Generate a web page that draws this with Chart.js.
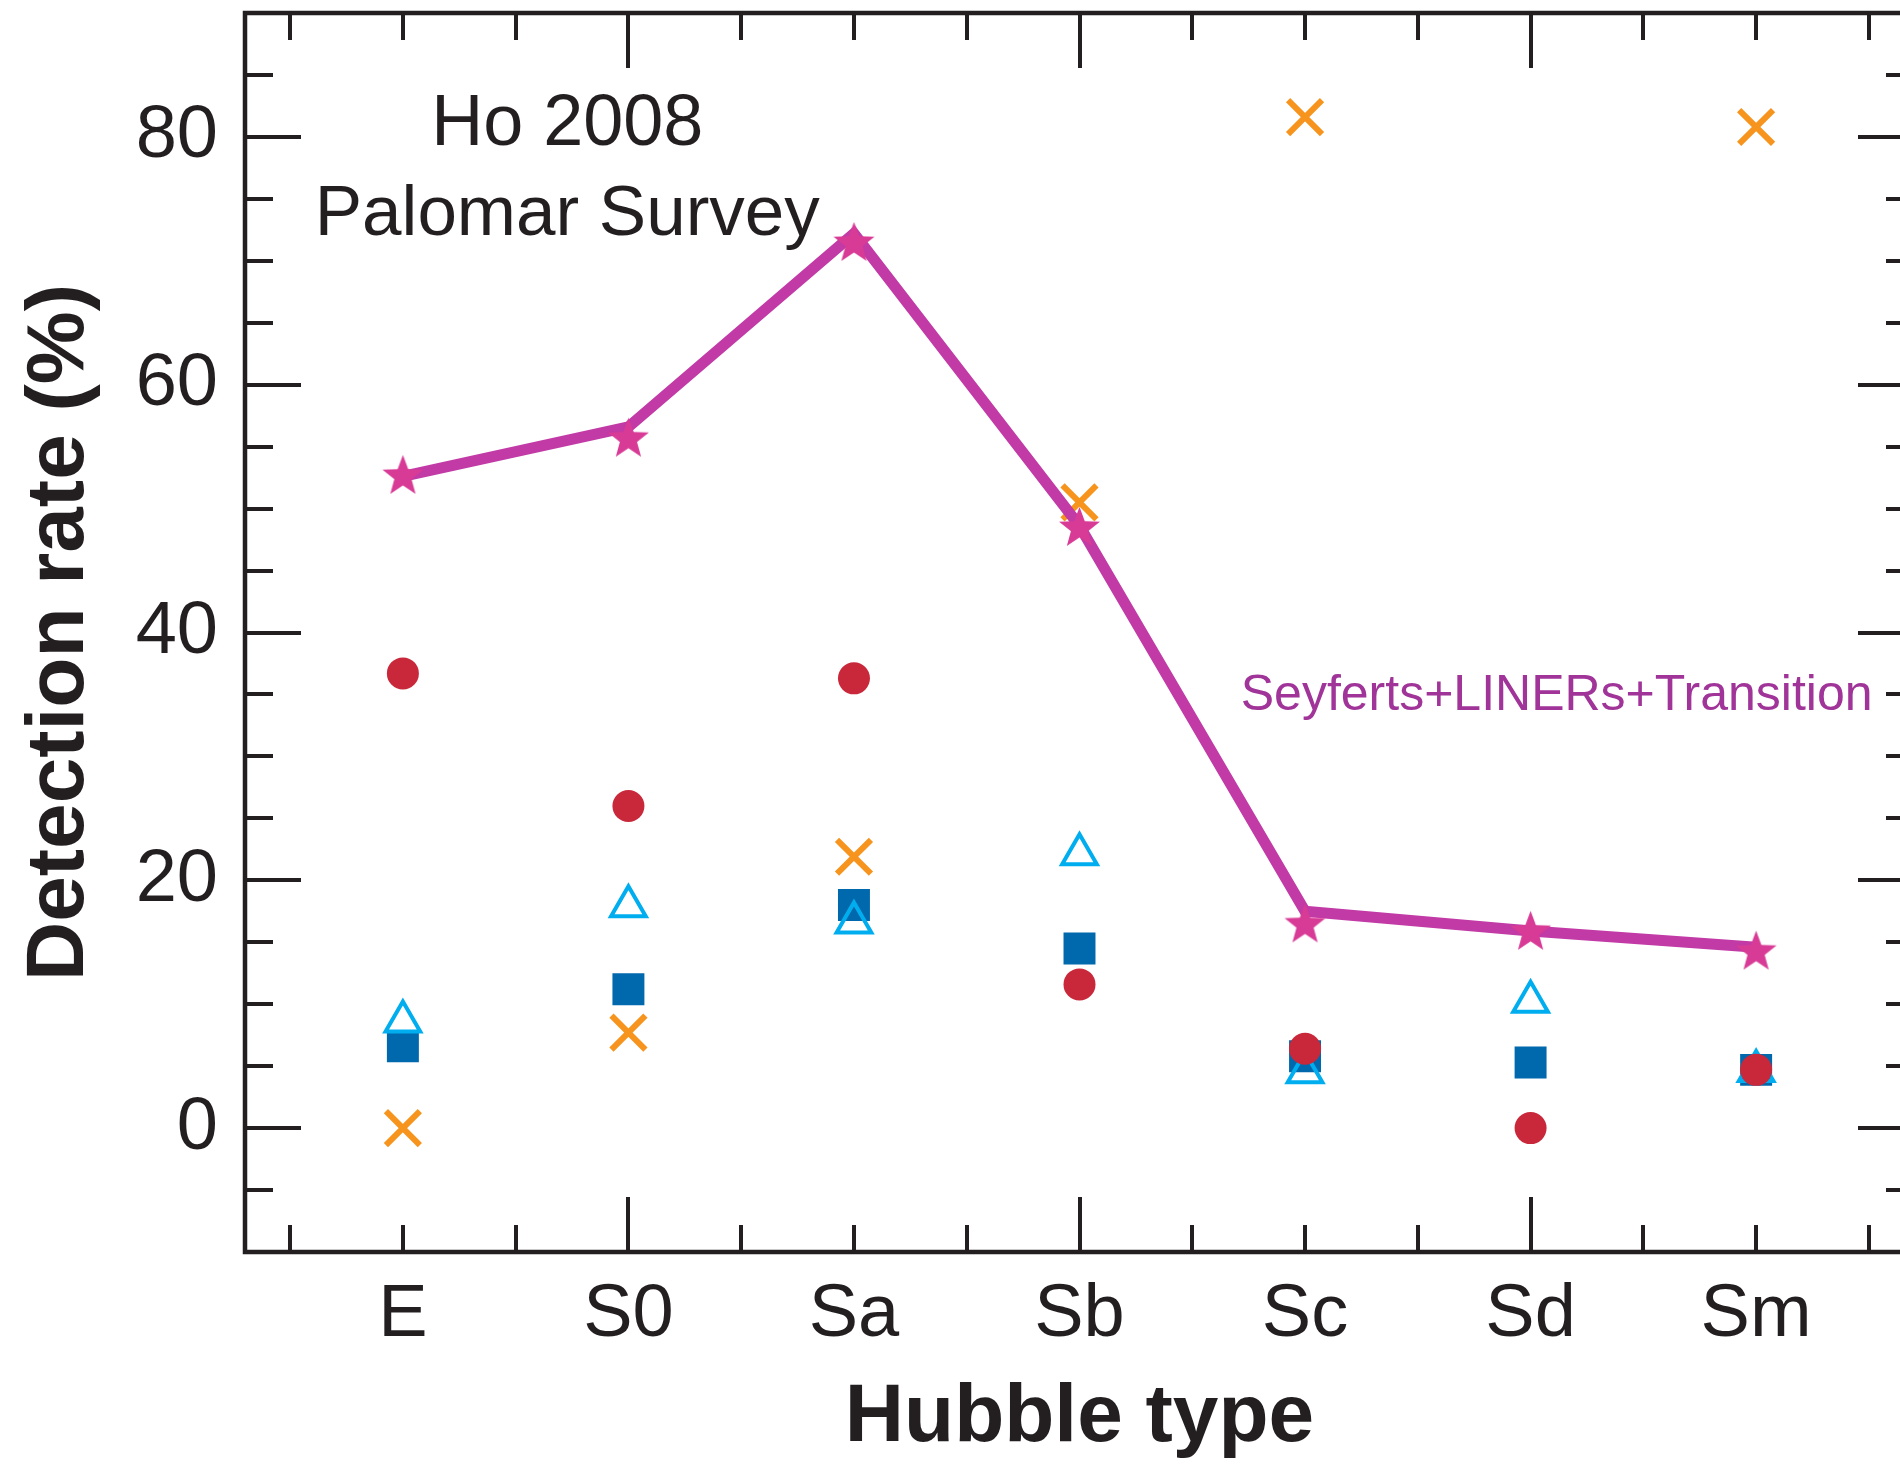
<!DOCTYPE html>
<html><head><meta charset="utf-8">
<script src="https://cdn.jsdelivr.net/npm/chart.js@4.4.1/dist/chart.umd.min.js"></script>
<style>
html,body{margin:0;padding:0;background:#fff;overflow:hidden;}
#wrap{width:1920px;height:1464px;position:relative;}
canvas{display:block;}
</style></head>
<body><div id="wrap"><canvas id="c" width="1920" height="1464"></canvas></div>
<script>
// ---- data ----
const categories = ['E', 'S0', 'Sa', 'Sb', 'Sc', 'Sd', 'Sm'];
const totalLine  = [52.6, 56.6, 72.2, 48.6, 17.5, 15.9, 14.6];   // Seyferts+LINERs+Transition (line)
const totalStars = [52.6, 55.6, 71.4, 48.4, 16.4, 15.8, 14.2];   // Seyferts+LINERs+Transition (stars)
const hiiNuclei  = [0, 7.7, 21.9, 50.5, 81.6, null, 80.8];       // orange crosses
const liners     = [36.7, 26.0, 36.3, 11.6, 6.4, 0, 4.7];        // red circles
const seyferts   = [6.6, 11.2, 18.0, 14.5, 5.8, 5.3, 4.7];       // blue squares
const transition = [8.6, 17.9, 16.6, 22.1, 4.5, 10.2, 4.6];      // cyan triangles
const yTickLabels = [0, 20, 40, 60, 80];
const yMinorStep = 5;
const xMinorStep = 0.5;
const xMajorEvery = 2;

const INK = '#231f20';
const FONT = "'Liberation Sans', Arial, Helvetica, sans-serif";

function pts(arr) { return arr.map((v, i) => ({ x: i + 1, y: v })); }

function makeStar(R, color) {
  const s = Math.ceil(R * 2 + 4);
  const c = document.createElement('canvas');
  c.width = s; c.height = s;
  const g = c.getContext('2d');
  g.fillStyle = color;
  g.beginPath();
  for (let i = 0; i < 10; i++) {
    const r = (i % 2) ? R * 0.42 : R;
    const a = -Math.PI / 2 + i * Math.PI / 5;
    g.lineTo(s / 2 + r * Math.cos(a), s / 2 + r * Math.sin(a));
  }
  g.closePath();
  g.fill();
  return c;
}
const starImg = makeStar(21.5, '#d83b96');

const framePlugin = {
  id: 'frame',
  beforeDatasetsDraw(chart) {
    const { ctx, chartArea: a, scales: { x, y } } = chart;
    ctx.save();
    ctx.strokeStyle = INK;
    ctx.lineCap = 'butt';
    ctx.lineWidth = 4;
    for (let v = y.min + yMinorStep; v < y.max; v += yMinorStep) {
      const p = Math.round(y.getPixelForValue(v));
      const major = Math.abs(v % 20) < 1e-6;
      const len = major ? 56 : 28;
      ctx.beginPath();
      ctx.moveTo(a.left, p); ctx.lineTo(a.left + len, p);
      ctx.moveTo(a.right, p); ctx.lineTo(a.right - len, p);
      ctx.stroke();
    }
    for (let v = 0.5; v < x.max; v += xMinorStep) {
      if (v <= x.min) continue;
      const p = Math.round(x.getPixelForValue(v));
      const major = Math.abs(v % xMajorEvery) < 1e-6;
      const len = major ? 55 : 27;
      ctx.beginPath();
      ctx.moveTo(p, a.top); ctx.lineTo(p, a.top + len);
      ctx.moveTo(p, a.bottom); ctx.lineTo(p, a.bottom - len);
      ctx.stroke();
    }
    ctx.lineWidth = 4.5;
    ctx.strokeRect(a.left, a.top, a.right - a.left, a.bottom - a.top);
    ctx.restore();
  }
};

const notes = [
  { text: 'Ho 2008', x: 1.729, y: 79.35, align: 'center', size: 72, color: INK },
  { text: 'Palomar Survey', x: 1.729, y: 72.08, align: 'center', size: 71, color: INK },
  { text: 'Seyferts+LINERs+Transition', x: 4.715, y: 33.76, align: 'left', size: 50, color: '#a03499' }
];

const notesPlugin = {
  id: 'notes',
  afterDatasetsDraw(chart) {
    const { ctx, scales: { x, y } } = chart;
    ctx.save();
    ctx.textBaseline = 'alphabetic';
    for (const n of notes) {
      ctx.font = n.size + 'px ' + FONT;
      ctx.fillStyle = n.color;
      ctx.textAlign = n.align;
      ctx.fillText(n.text, x.getPixelForValue(n.x), y.getPixelForValue(n.y));
    }
    ctx.restore();
  }
};

function noPad(s) { s.paddingTop = 0; s.paddingBottom = 0; s.paddingLeft = 0; s.paddingRight = 0; }

new Chart(document.getElementById('c'), {
  type: 'scatter',
  data: {
    datasets: [
      { label: 'stars', data: pts(totalStars), pointStyle: starImg, pointRadius: 21, showLine: false },
      { label: 'line', data: pts(totalLine), showLine: true, borderColor: '#c13aa6', borderWidth: 11,
        borderJoinStyle: 'miter', pointRadius: 0, backgroundColor: '#c13aa6' },
      { label: 'LINERs', data: pts(liners), pointStyle: 'circle', pointRadius: 16,
        backgroundColor: '#c8283a', borderWidth: 0 },
      { label: 'transition', data: pts(transition), pointStyle: 'triangle', pointRadius: 20,
        backgroundColor: 'rgba(0,0,0,0)', borderColor: '#00aeef', borderWidth: 4 },
      { label: 'seyferts', data: pts(seyferts), pointStyle: 'rect', pointRadius: 22.6,
        backgroundColor: '#0068ac', borderWidth: 0 },
      { label: 'HII', data: pts(hiiNuclei), pointStyle: 'crossRot', pointRadius: 24,
        borderColor: '#f7941d', borderWidth: 6, backgroundColor: '#f7941d' }
    ]
  },
  options: {
    responsive: false,
    animation: false,
    devicePixelRatio: 1,
    layout: { autoPadding: false, padding: { top: 13, right: 6, left: 0, bottom: 0 } },
    plugins: { legend: { display: false }, tooltip: { enabled: false } },
    scales: {
      x: {
        type: 'linear', min: 0.3, max: 7.7,
        grid: { display: false, drawTicks: false },
        border: { display: false },
        afterBuildTicks: s => { s.ticks = categories.map((c, i) => ({ value: i + 1 })); },
        afterFit: s => { s.height = 212; noPad(s); },
        ticks: {
          callback: v => categories[Math.round(v) - 1] ?? '',
          font: { family: FONT, size: 74, lineHeight: 1 }, color: INK,
          padding: 27, maxRotation: 0, autoSkip: false
        },
        title: {
          display: true, text: 'Hubble type', color: INK,
          font: { family: FONT, size: 82, weight: 'bold', lineHeight: 1 },
          padding: { top: 0, bottom: 5 }
        }
      },
      y: {
        type: 'linear', min: -10, max: 90,
        grid: { display: false, drawTicks: false },
        border: { display: false },
        afterBuildTicks: s => { s.ticks = yTickLabels.map(v => ({ value: v })); },
        afterFit: s => { s.width = 245; noPad(s); },
        ticks: {
          font: { family: FONT, size: 74, lineHeight: 1 }, color: INK, padding: 27
        },
        title: {
          display: true, text: 'Detection rate (%)', color: INK,
          font: { family: FONT, size: 82, weight: 'bold', lineHeight: 1 },
          padding: { top: 19, bottom: 0 }
        }
      }
    }
  },
  plugins: [framePlugin, notesPlugin]
});
</script>
</body></html>
